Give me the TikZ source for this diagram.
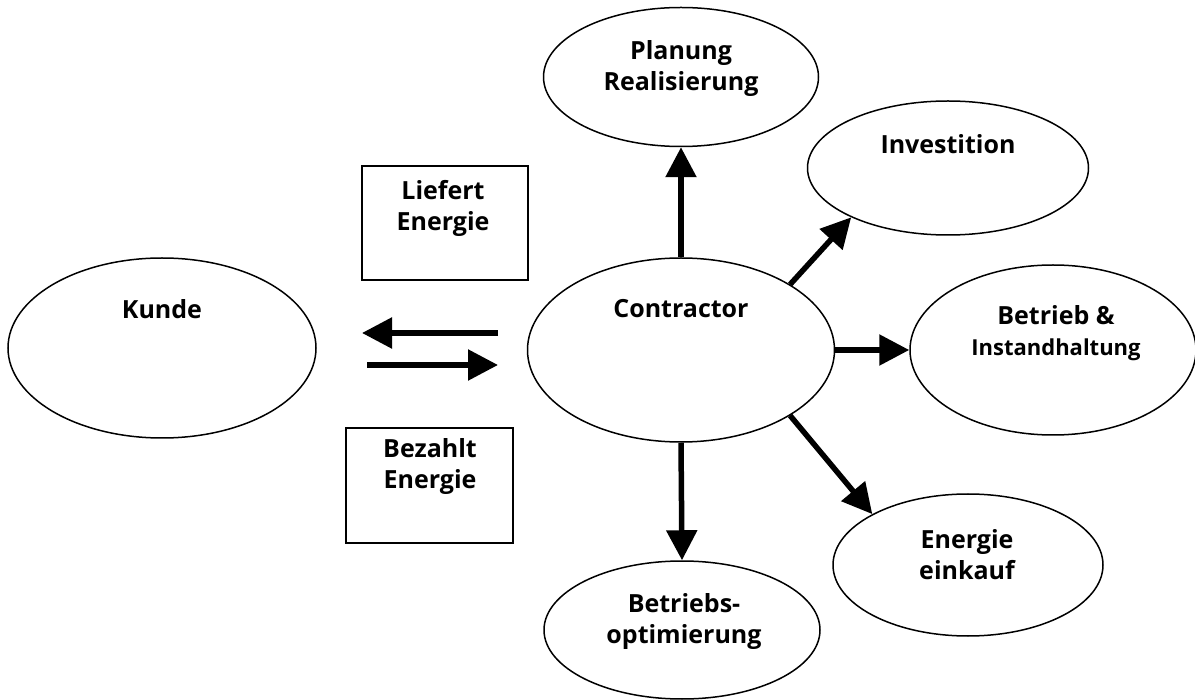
\documentclass[tikz,border=0pt]{standalone}
\usepackage{fontspec}
\setmainfont{Open Sans}
\usetikzlibrary{shapes.geometric,arrows.meta}

\tikzset{
  oval/.style={ellipse,draw,line width=1.5pt,inner sep=0pt},
  box/.style={rectangle,draw,line width=1.5pt,inner sep=0pt},
  lbl/.style={font=\bfseries\fontsize{25}{31}\selectfont,align=center,inner sep=0pt},
  pfeil/.style={line width=5.5pt,-{Triangle[length=30pt,width=30pt]}}
}

\begin{document}
\begin{tikzpicture}[x=1pt,y=-1pt]
\useasboundingbox (0,0) rectangle (1195,700);

% ellipses
\node[oval,minimum width=308pt,minimum height=180pt] (kunde) at (162,348) {};
\node[oval,minimum width=307pt,minimum height=184pt] (contractor) at (681,350) {};
\node[oval,minimum width=275pt,minimum height=139pt] (planung) at (681,77) {};
\node[oval,minimum width=281pt,minimum height=134pt] (invest) at (948,168) {};
\node[oval,minimum width=286pt,minimum height=170pt] (betrieb) at (1053,350) {};
\node[oval,minimum width=270pt,minimum height=142pt] (einkauf) at (968,565) {};
\node[oval,minimum width=276pt,minimum height=138pt] (optim) at (682,630) {};

% boxes
\node[box,minimum width=166pt,minimum height=114pt] (liefert) at (445,223) {};
\node[box,minimum width=167pt,minimum height=115pt] (bezahlt) at (429.5,485.5) {};

% texts
\node[lbl] (kundeTxt) at (162,309) {Kunde};
\node[lbl] (contractorTxt) at (681,309) {Contractor};
\node[lbl] (planungTxt) at (681,69) {Planung\\Realisierung};
\node[lbl] (investTxt) at (948,144) {Investition};
\node[lbl] (betriebTxt) at (1056,333) {Betrieb \&\\[0pt]{\fontsize{22}{26}\selectfont Instandhaltung}};
\node[lbl] (einkaufTxt) at (967,555) {Energie\\einkauf};
\node[lbl] (optimTxt) at (684,622) {Betriebs-\\optimierung};
\node[lbl] (liefertTxt) at (443,208) {Liefert\\Energie};
\node[lbl] (bezahltTxt) at (430,467) {Bezahlt\\Energie};

% arrows between Kunde and Contractor
\coordinate (linksA) at (498,333);
\coordinate (linksB) at (362,333);
\coordinate (rechtsA) at (367,365);
\coordinate (rechtsB) at (498,365);
\draw[pfeil] (linksA) -- (linksB);
\draw[pfeil] (rechtsA) -- (rechtsB);

% arrows from Contractor
\draw[pfeil] (contractor.north) -- (planung.south);
\draw[pfeil] (contractor.31) -- (invest.207);
\draw[pfeil] (contractor.east) -- (betrieb.west);
\draw[pfeil] (contractor.-31) -- (einkauf.152);
\draw[pfeil] (contractor.south) -- (optim.north);

\end{tikzpicture}
\end{document}
